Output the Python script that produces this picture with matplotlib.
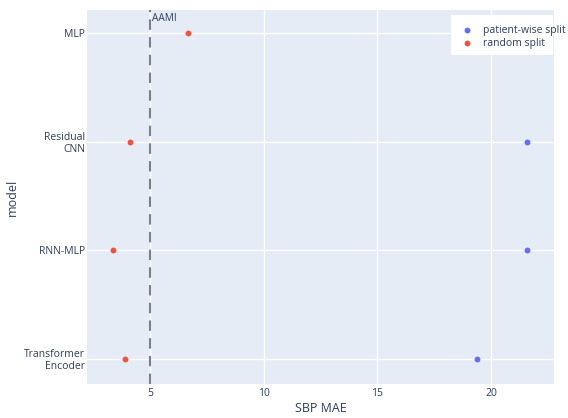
import matplotlib.pyplot as plt
from matplotlib.patches import Rectangle

models = ["MLP", "Residual\nCNN", "RNN-MLP", "Transformer\nEncoder"]
patient_models = ["Residual\nCNN", "RNN-MLP", "Transformer\nEncoder"]
patient_mae = [21.58, 21.6, 19.37]
random_mae = [6.67, 4.12, 3.37, 3.9]
aami_limit = 5

plt.rcParams["font.family"] = ["Open Sans", "DejaVu Sans"]
txt = "#2a3f5f"
W, H = 568, 418

fig = plt.figure(figsize=(W / 100, H / 100), dpi=100)
ax = fig.add_axes([87 / W, 34 / H, 467 / W, 374 / H])
ax.set_facecolor("#E5ECF6")

ypos = {m: i for i, m in enumerate(models)}
ax.scatter(patient_mae, [ypos[m] for m in patient_models], s=18, color="#636efa",
           label="patient-wise split", zorder=3, linewidths=0)
ax.scatter(random_mae, [ypos[m] for m in models], s=18, color="#EF553B",
           label="random split", zorder=3, linewidths=0)

# AAMI threshold
ax.axvline(aami_limit, color="#7a7f88", linestyle=(0, (5, 3.5)), linewidth=1.5, zorder=2)
ax.text(aami_limit + 0.08, 0.976, "AAMI", color=txt, fontsize=7.2, va="center", ha="left",
        transform=ax.get_xaxis_transform())

ax.set_xlim(2.23, 22.77)
ax.set_ylim(3.23, -0.21)
ax.set_xticks([5, 10, 15, 20])
ax.set_yticks(range(len(models)))
ax.set_yticklabels(models, linespacing=1.1)
ax.grid(color="white", linewidth=1, zorder=0)
ax.set_axisbelow(True)
for s in ax.spines.values():
    s.set_visible(False)
ax.tick_params(length=0, labelsize=7.5, colors=txt)
ax.tick_params(axis="y", pad=1.5)
ax.tick_params(axis="x", pad=3)
for lbl in ax.get_yticklabels():
    lbl.set_horizontalalignment("right")

ax.set_xlabel("SBP MAE", fontsize=9, color=txt)
ax.set_ylabel("model", fontsize=9, color=txt)
ax.xaxis.set_label_coords(0.5, -24 / 374)
ax.xaxis.label.set_va("center")
ax.yaxis.set_label_coords(-75 / 467, 0.5)
ax.yaxis.label.set_va("center")

# legend box sits inside the top-right corner of the plot
fig.patches.append(Rectangle((451 / W, 1 - 55 / H), 102 / W, 40 / H, transform=fig.transFigure,
                             facecolor="white", edgecolor="none", zorder=1))
handles, labels = ax.get_legend_handles_labels()
leg = fig.legend(handles, labels, loc="upper left", bbox_to_anchor=(463 / W, 1 - 25 / H),
                 frameon=False, fontsize=7.5, handlelength=0.8, handletextpad=1.1,
                 borderpad=0, borderaxespad=0, labelspacing=0.2)
leg.set_zorder(5)
for t in leg.get_texts():
    t.set_color(txt)

fig.savefig("out.png", dpi=100)
